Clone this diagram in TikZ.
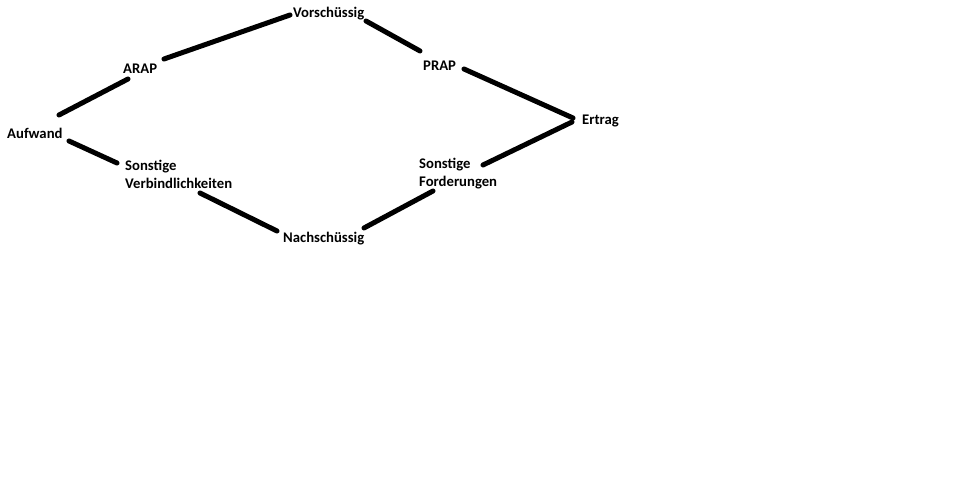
\documentclass[tikz,border=0pt]{standalone}
\usepackage{fontspec}
\setmainfont{Carlito}
\usepackage{tikz}

\begin{document}
\begin{tikzpicture}[x=1bp, y=-1bp,
		label/.style={anchor=west, inner sep=0pt, align=left, font=\fontsize{14.7bp}{18bp}\selectfont\bfseries},
		word/.style={label, text height=12bp, text depth=1bp},
		link/.style={line width=5bp, line cap=round}]
		\useasboundingbox (0,0) rectangle (953,498);
		
		% Place the labels
		\node[word] (auf) at (7,133) {Aufwand};
		\node[word] (arap) at (123,68) {ARAP};
		\node[word] (vor) at (293,12) {Vorschüssig};
		\node[word] (prap) at (423,65) {PRAP};
		\node[word] (ert) at (582,119) {Ertrag};
		\node[label] (ford) at (419,174) {Sonstige\\Forderungen};
		\node[label] (verb) at (125,174) {Sonstige\\Verbindlichkeiten};
		\node[word] (nach) at (283,237) {Nachschüssig};
		
		% Upper path
		\draw[link] ([shift={(52,-18)}]auf.west) -- ([shift={(5,11)}]arap.west);
		\draw[link] ([shift={(41,-9)}]arap.west) -- ([shift={(-3,3)}]vor.west);
		\draw[link] ([shift={(73,9)}]vor.west) -- ([shift={(-3,-14)}]prap.west);
		\draw[link] ([shift={(41,4)}]prap.west) -- ([shift={(-9,-1)}]ert.west);
		
		% Lower path
		\draw[link] ([shift={(-10,3)}]ert.west) -- ([shift={(64,-9)}]ford.west);
		\draw[link] ([shift={(14,17)}]ford.west) -- ([shift={(81,-9)}]nach.west);
		\draw[link] ([shift={(-6,-6)}]nach.west) -- ([shift={(75,19)}]verb.west);
		\draw[link] ([shift={(-8,-11)}]verb.west) -- ([shift={(62,8)}]auf.west);
	\end{tikzpicture}
\end{document}
